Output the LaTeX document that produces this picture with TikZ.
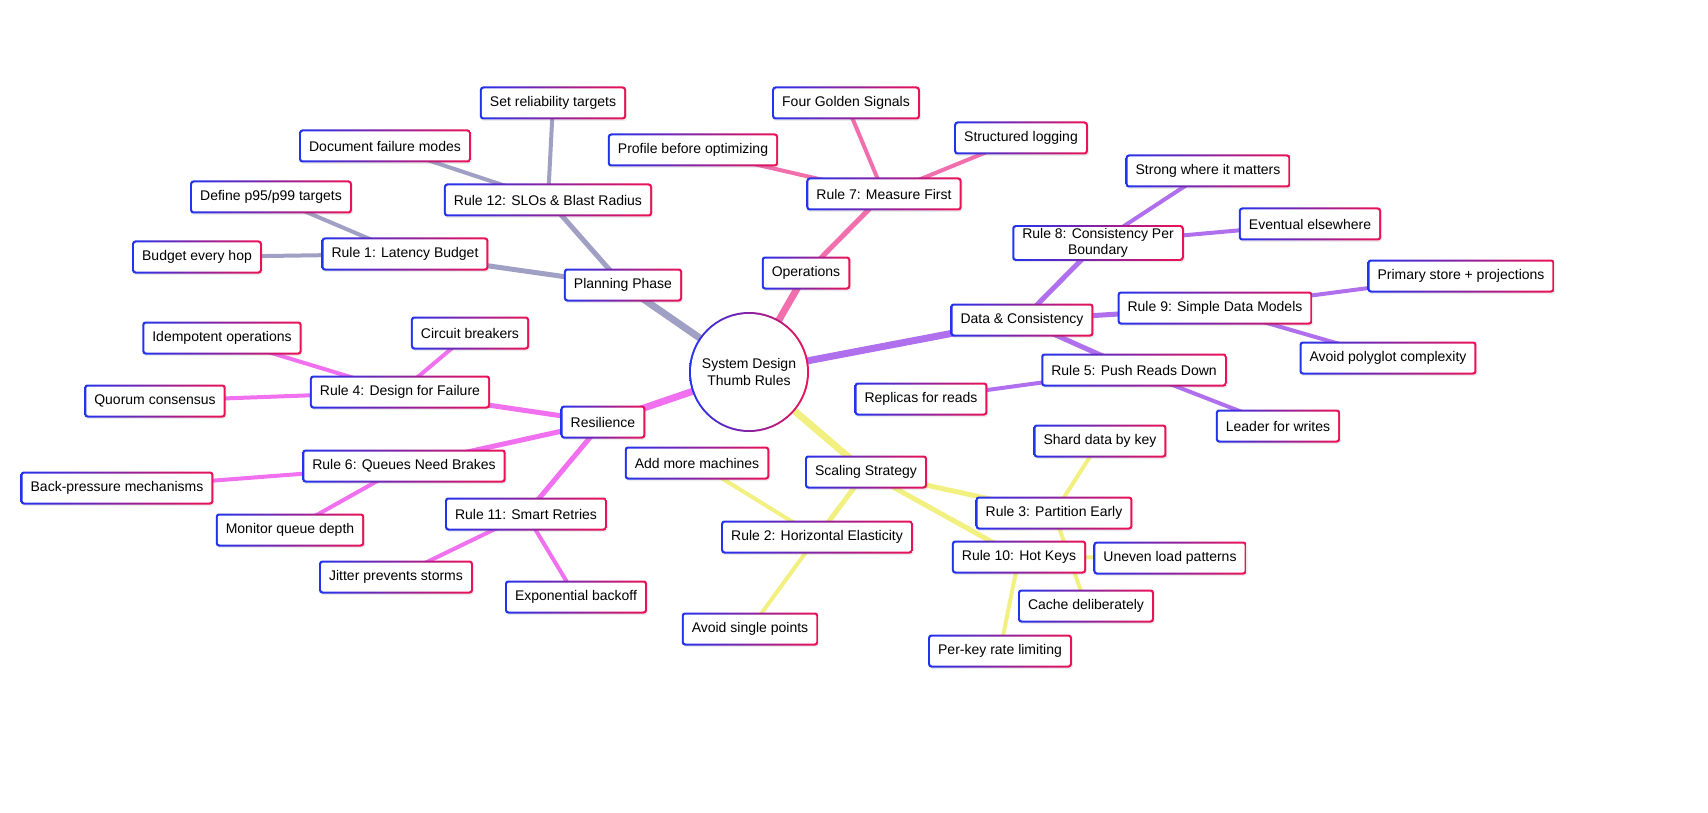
\documentclass[tikz,border=0pt]{standalone}
\usepackage{fontspec}
\setmainfont{Liberation Sans}
\usetikzlibrary{backgrounds,shadows}
\definecolor{gb}{HTML}{2233EE}
\definecolor{gr}{HTML}{EE1155}
\definecolor{cplan}{HTML}{A0A0C4}
\definecolor{cops}{HTML}{F26FAE}
\definecolor{cdata}{HTML}{B070EE}
\definecolor{cscal}{HTML}{F2F080}
\definecolor{cres}{HTML}{F070F0}
\begin{document}
\begin{tikzpicture}[x=1pt,y=-1pt,
  box/.style={rounded corners=3pt,minimum height=33pt,inner xsep=10pt,align=center,
    font=\fontsize{14}{16}\selectfont,
    drop shadow={shadow xshift=1pt,shadow yshift=-1.5pt,opacity=0.15},
    path picture={\shade[left color=gb,right color=gr] (path picture bounding box.south west) rectangle (path picture bounding box.north east);
      \fill[white,rounded corners=2pt] ([shift={(2pt,2pt)}]path picture bounding box.south west) rectangle ([shift={(-2pt,-2pt)}]path picture bounding box.north east);}},
  root/.style={circle,minimum size=120pt,align=center,font=\fontsize{14}{17}\selectfont,
    path picture={\shade[left color=gb,right color=gr] (path picture bounding box.south west) rectangle (path picture bounding box.north east);
      \fill[white] (path picture bounding box.center) circle (58pt);}},
  e1/.style={line width=7pt},
  e2/.style={line width=5pt},
  e3/.style={line width=4pt}]
\useasboundingbox (0,0) rectangle (1708,813);
\node[root] (c) at (749,372) {System Design\\Thumb Rules};
% Planning
\node[box] (plan) at (623,285) {Planning Phase};
\node[box] (r1) at (405,254) {Rule 1: Latency Budget};
\node[box] (l1a) at (271,197) {Define p95/p99 targets};
\node[box] (l1b) at (197,257) {Budget every hop};
\node[box] (r12) at (548,200) {Rule 12: SLOs \& Blast Radius};
\node[box] (l12a) at (385,146) {Document failure modes};
\node[box] (l12b) at (553,103) {Set reliability targets};
% Operations
\node[box] (ops) at (806,273) {Operations};
\node[box] (r7) at (884,194) {Rule 7: Measure First};
\node[box] (l7a) at (846,103) {Four Golden Signals};
\node[box] (l7b) at (693,150) {Profile before optimizing};
\node[box] (l7c) at (1021,138) {Structured logging};
% Data
\node[box] (data) at (1022,320) {Data \& Consistency};
\node[box] (r8) at (1098,243) {Rule 8: Consistency Per\\Boundary};
\node[box] (l8a) at (1208,171) {Strong where it matters};
\node[box] (l8b) at (1310,224) {Eventual elsewhere};
\node[box] (r9) at (1215,308) {Rule 9: Simple Data Models};
\node[box] (l9a) at (1461,276) {Primary store + projections};
\node[box] (l9b) at (1388,358) {Avoid polyglot complexity};
\node[box] (r5) at (1134,370) {Rule 5: Push Reads Down};
\node[box] (l5a) at (921,399) {Replicas for reads};
\node[box] (l5b) at (1278,426) {Leader for writes};
% Scaling
\node[box] (scal) at (866,472) {Scaling Strategy};
\node[box] (r2) at (817,537) {Rule 2: Horizontal Elasticity};
\node[box] (l2a) at (697,463) {Add more machines};
\node[box] (l2b) at (750,629) {Avoid single points};
\node[box] (r3) at (1054,513) {Rule 3: Partition Early};
\node[box] (l3a) at (1100,441) {Shard data by key};
\node[box] (l3b) at (1086,606) {Cache deliberately};
\node[box] (r10) at (1019,557) {Rule 10: Hot Keys};
\node[box] (l10a) at (1170,558) {Uneven load patterns};
\node[box] (l10b) at (1000,651) {Per-key rate limiting};
% Resilience
\node[box] (res) at (603,422) {Resilience};
\node[box] (r4) at (400,392) {Rule 4: Design for Failure};
\node[box] (l4a) at (222,338) {Idempotent operations};
\node[box] (l4b) at (470,333) {Circuit breakers};
\node[box] (l4c) at (155,401) {Quorum consensus};
\node[box] (r6) at (404,466) {Rule 6: Queues Need Brakes};
\node[box] (l6a) at (117,488) {Back-pressure mechanisms};
\node[box] (l6b) at (290,530) {Monitor queue depth};
\node[box] (r11) at (526,514) {Rule 11: Smart Retries};
\node[box] (l11a) at (396,577) {Jitter prevents storms};
\node[box] (l11b) at (576,597) {Exponential backoff};
\begin{pgfonlayer}{background}
\draw[cplan,e1] (c.center) -- (plan.center);
\draw[cplan,e2] (plan.center) -- (r1.center);
\draw[cplan,e2] (plan.center) -- (r12.center);
\draw[cplan,e3] (r1.center) -- (l1a.center);
\draw[cplan,e3] (r1.center) -- (l1b.center);
\draw[cplan,e3] (r12.center) -- (l12a.center);
\draw[cplan,e3] (r12.center) -- (l12b.center);
\draw[cops,e1] (c.center) -- (ops.center);
\draw[cops,e2] (ops.center) -- (r7.center);
\draw[cops,e3] (r7.center) -- (l7a.center);
\draw[cops,e3] (r7.center) -- (l7b.center);
\draw[cops,e3] (r7.center) -- (l7c.center);
\draw[cdata,e1] (c.center) -- (data.center);
\draw[cdata,e2] (data.center) -- (r8.center);
\draw[cdata,e2] (data.center) -- (r9.center);
\draw[cdata,e2] (data.center) -- (r5.center);
\draw[cdata,e3] (r8.center) -- (l8a.center);
\draw[cdata,e3] (r8.center) -- (l8b.center);
\draw[cdata,e3] (r9.center) -- (l9a.center);
\draw[cdata,e3] (r9.center) -- (l9b.center);
\draw[cdata,e3] (r5.center) -- (l5a.center);
\draw[cdata,e3] (r5.center) -- (l5b.center);
\draw[cscal,e1] (c.center) -- (scal.center);
\draw[cscal,e2] (scal.center) -- (r2.center);
\draw[cscal,e2] (scal.center) -- (r3.center);
\draw[cscal,e2] (scal.center) -- (r10.center);
\draw[cscal,e3] (r2.center) -- (l2a.center);
\draw[cscal,e3] (r2.center) -- (l2b.center);
\draw[cscal,e3] (r3.center) -- (l3a.center);
\draw[cscal,e3] (r3.center) -- (l3b.center);
\draw[cscal,e3] (r10.center) -- (l10a.center);
\draw[cscal,e3] (r10.center) -- (l10b.center);
\draw[cres,e1] (c.center) -- (res.center);
\draw[cres,e2] (res.center) -- (r4.center);
\draw[cres,e2] (res.center) -- (r6.center);
\draw[cres,e2] (res.center) -- (r11.center);
\draw[cres,e3] (r4.center) -- (l4a.center);
\draw[cres,e3] (r4.center) -- (l4b.center);
\draw[cres,e3] (r4.center) -- (l4c.center);
\draw[cres,e3] (r6.center) -- (l6a.center);
\draw[cres,e3] (r6.center) -- (l6b.center);
\draw[cres,e3] (r11.center) -- (l11a.center);
\draw[cres,e3] (r11.center) -- (l11b.center);
\end{pgfonlayer}
\end{tikzpicture}
\end{document}
